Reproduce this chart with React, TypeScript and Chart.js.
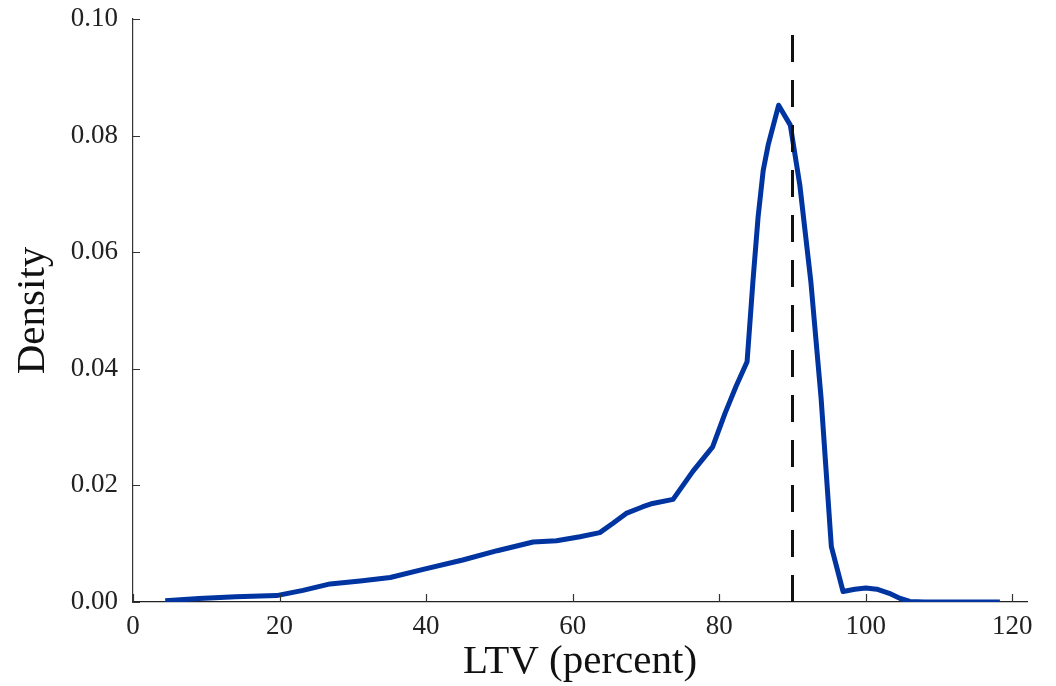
import React, { useEffect, useRef } from "react";
import { Chart, registerables } from "chart.js";

Chart.register(...registerables);

// LTV (percent) values along the density curve
const ltvX = [4.4, 9, 14, 19.6, 23.2, 26.9, 31, 35.1, 39.6, 45, 49.7, 54.6, 57.8, 61, 63.7, 65.5, 67.3, 69.5, 70.9, 73.7, 76.4, 79.1, 80.8, 82.3, 83.8, 84.6, 85.3, 86.0, 86.7, 88.1, 89.7, 91.0, 92.5, 93.9, 95.3, 96.9, 98.5, 100, 101.5, 103.2, 104.7, 106, 108, 118.3];
// Density values
const densityY = [0.0002, 0.0006, 0.0009, 0.0011, 0.0020, 0.0031, 0.0036, 0.0042, 0.0056, 0.0072, 0.0088, 0.0103, 0.0105, 0.0112, 0.0119, 0.0135, 0.0152, 0.0163, 0.0169, 0.0176, 0.0224, 0.0266, 0.0324, 0.0370, 0.0412, 0.0550, 0.0660, 0.0740, 0.0785, 0.0852, 0.0818, 0.0715, 0.0550, 0.0350, 0.0095, 0.0018, 0.0022, 0.0024, 0.0022, 0.0015, 0.0006, 0.0001, 0.0, 0.0];

// Vertical reference line at 90 percent LTV
const refLineX = [90, 90];
const refLineY = [0, 0.1];

const xTickValues = [0, 20, 40, 60, 80, 100, 120];
const yTickValues = [0, 0.02, 0.04, 0.06, 0.08, 0.1];

const xTitle = "LTV (percent)";
const yTitle = "Density";

const FONT = "'Liberation Serif', 'Times New Roman', serif";

const innerTicks = {
  id: "innerTicks",
  afterDatasetsDraw(chart: any) {
    const { ctx, chartArea, scales } = chart;
    const xs = scales.x;
    const ys = scales.y;
    ctx.save();
    ctx.strokeStyle = "#333";
    ctx.lineWidth = 1.2;
    ctx.beginPath();
    xTickValues.forEach((v) => {
      const px = Math.round(xs.getPixelForValue(v)) + 0.5;
      ctx.moveTo(px, chartArea.bottom);
      ctx.lineTo(px, chartArea.bottom - 8);
    });
    yTickValues.forEach((v) => {
      const py = Math.round(ys.getPixelForValue(v)) + 0.5;
      ctx.moveTo(chartArea.left, py);
      ctx.lineTo(chartArea.left + 7, py);
    });
    ctx.stroke();
    ctx.restore();
  },
};

export default function App() {
  const canvasRef = useRef<HTMLCanvasElement | null>(null);

  useEffect(() => {
    const canvas = canvasRef.current;
    if (!canvas) return;
    const chart = new Chart(canvas, {
      type: "line",
      data: {
        datasets: [
          {
            label: "Density",
            data: ltvX.map((x, i) => ({ x, y: densityY[i] })),
            borderColor: "#0034a0",
            borderWidth: 5,
            pointRadius: 0,
            tension: 0,
            fill: false,
            borderJoinStyle: "round",
            borderCapStyle: "butt",
            order: 2,
          },
          {
            label: "90",
            data: refLineX.map((x, i) => ({ x, y: refLineY[i] })),
            borderColor: "#111",
            borderWidth: 3,
            borderDash: [27, 18],
            pointRadius: 0,
            fill: false,
            order: 1,
          },
        ],
      },
      plugins: [innerTicks],
      options: {
        responsive: false,
        animation: false,
        layout: { padding: { top: 19, right: 29, left: 0, bottom: 0 } },
        plugins: {
          legend: { display: false },
          tooltip: { enabled: false },
        },
        scales: {
          x: {
            type: "linear",
            min: 0,
            max: 122,
            afterBuildTicks: (scale: any) => {
              scale.ticks = xTickValues.map((v) => ({ value: v }));
            },
            afterFit: (scale: any) => {
              scale.height = 84;
              scale.paddingLeft = 0;
              scale.paddingRight = 0;
            },
            grid: { display: false, drawTicks: false },
            border: { display: true, color: "#222", width: 1.2 },
            ticks: {
              padding: 9,
              color: "#222",
              font: { family: FONT, size: 27 },
              callback: (v: any) => String(v),
            },
            title: {
              display: true,
              text: xTitle,
              color: "#111",
              font: { family: FONT, size: 41, lineHeight: 1 },
              padding: { top: 0, bottom: 3 },
            },
          },
          y: {
            type: "linear",
            min: 0,
            max: 0.1,
            afterBuildTicks: (scale: any) => {
              scale.ticks = yTickValues.map((v) => ({ value: v }));
            },
            afterFit: (scale: any) => {
              scale.width = 133;
              scale.paddingTop = 0;
              scale.paddingBottom = 0;
            },
            grid: { display: false, drawTicks: false },
            border: { display: true, color: "#333", width: 1.2 },
            ticks: {
              padding: 15,
              color: "#222",
              font: { family: FONT, size: 27 },
              callback: (v: any) => Number(v).toFixed(2),
            },
            title: {
              display: true,
              text: yTitle,
              color: "#111",
              font: { family: FONT, size: 41, lineHeight: 1 },
              padding: { top: 13, bottom: 0 },
            },
          },
        },
      },
    });
    return () => chart.destroy();
  }, []);

  return (
    <div style={{ position: "fixed", left: 0, top: 0, width: 1056, height: 686, background: "#fff" }}>
      <canvas ref={canvasRef} width={1056} height={686} style={{ display: "block", width: 1056, height: 686 }} />
    </div>
  );
}
